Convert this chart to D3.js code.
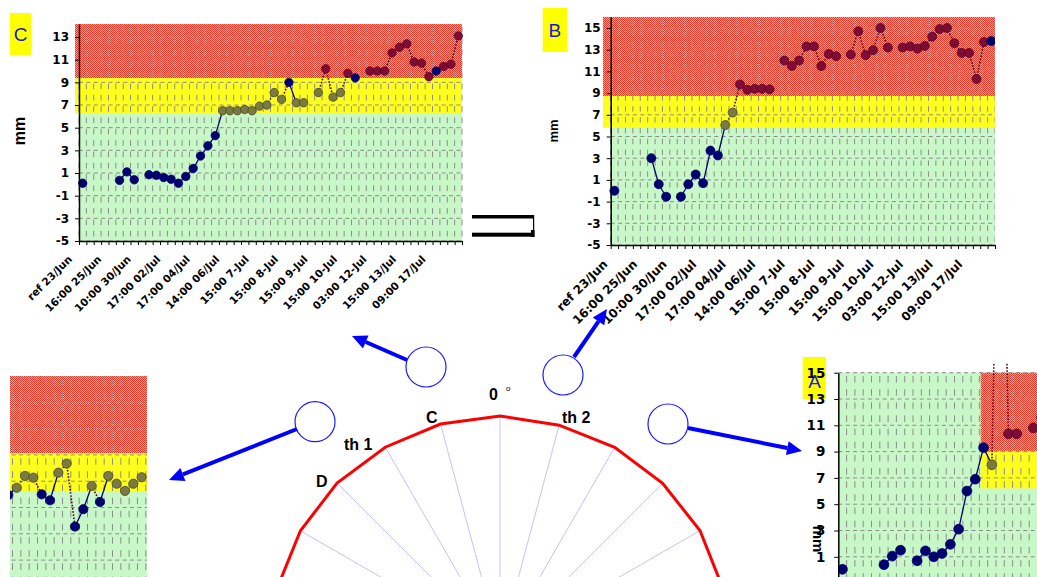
<!DOCTYPE html>
<html>
<head>
<meta charset="utf-8">
<script src="https://d3js.org/d3.v7.min.js"></script>
<style>
  body { margin: 0; background: #fff; }
  svg text { font-family: "Liberation Sans", Arial, sans-serif; font-weight: bold; }
  svg .tk text, svg text.xl { font-family: "DejaVu Sans", "Liberation Sans", sans-serif; }
</style>
</head>
<body>
<script>
// ---- data ----
const tickLabels = ['ref 23/Jun', '16:00 25/Jun', '10:00 30/Jun', '17:00 02/Jul', '17:00 04/Jul',
  '14:00 06/Jul', '15:00 7-Jul', '15:00 8-Jul', '15:00 9-Jul', '15:00 10-Jul',
  '03:00 12-Jul', '15:00 13/Jul', '09:00 17/Jul'];
const nCats = 52;
const labelEvery = 4;

const yTicksC = [-5, -3, -1, 1, 3, 5, 7, 9, 11, 13];
const yTicksB = [-5, -3, -1, 1, 3, 5, 7, 9, 11, 13, 15];
const yTicksA = [1, 3, 5, 7, 9, 11, 13, 15];

// zone limits [yellow from, red from] in mm
const zonesC = [6.3, 9.38];
const zonesB = [5.8, 8.73];
const zonesA = [6.2, 9.05];
const zonesD = [6.2, 9.12];

// C
const valuesC = [0.1, null, null, null, null, 0.35, 1.1, 0.4, null, 0.85, 0.8, 0.6, 0.45, 0.1, 0.7,
  1.4, 2.5, 3.4, 4.3, 6.5, 6.5, 6.5, 6.6, 6.5, 6.9, 7.0, 8.1, 7.5, 9.0, 7.2, 7.2, null, 8.1, 10.2,
  7.7, 8.1, 9.8, 9.4, null, 10.0, 10.0, 10.0, 11.6, 12.1, 12.4, 10.8, 10.7, 9.5, 10.0, 10.4, 10.6, 13.1];
const groupsC = 'n----nnn-nnnnnnnnnnooooooooonoo-oroornrrrrrrrrrrnrrrr';
// B
const valuesB = [0.0, null, null, null, null, 3.0, 0.6, -0.55, null, -0.55, 0.6, 1.5, 0.7, 3.7, 3.25,
  6.05, 7.2, 9.8, 9.3, 9.4, 9.4, 9.35, null, 12.0, 11.5, 12.0, 13.3, 13.3, 11.5, 12.6, 12.4, null,
  12.55, 14.7, 12.5, 12.95, 15.0, 13.2, null, 13.2, 13.3, 13.1, 13.35, 14.2, 14.9, 15.0, 13.6, 12.7,
  12.7, 10.3, 13.7, 13.8];
const groupsB = 'n----nnn-nnnnnnoorrrrr-rrrrrrrr-rrrrrr-rrrrrrrrrrrrn';
// A (only the left part is in view)
const valuesA = [0.05, null, null, null, null, 0.4, 1.05, 1.5, null, 0.7, 1.45, 1.0, 1.25, 1.95, 3.1,
  6.0, 6.9, 9.3, 8.0, 40, 10.35, 10.35, null, 10.8, 11.6];
const groupsA = 'n----nnn-nnnnnnnnnorrr-rr';
// D (cropped piece)
const valuesD = [5.95, 6.5, 7.4, 7.27, 6.0, 5.55, 7.65, 8.34, 3.55, 4.87, 6.64, 5.42, 7.4, 6.81, 6.26, 6.81, 7.3];
const groupsD = 'nooonnoonnonooooo';
const gridTicksD = [-5, -3, -1, 1, 3, 5, 7, 9, 11, 13, 15];

// polar profile
const polarAngles = [-90, -75, -60, -45, -30, -15, 0, 15, 30, 45, 60, 75, 90];
const polarRadii = [1, 1, 1.002, 1.002, 0.998, 0.999, 1, 0.994, 0.997, 1, 1.004, 1, 1];

// ---- drawing ----
const NAVY = '#00006e';
const fillOf = { n: NAVY, o: '#7a7a42', r: '#7e0c36' };
const strokeOf = { n: NAVY, o: '#4a4a22', r: '#560420' };

const svg = d3.select('body').append('svg').attr('width', 1037).attr('height', 577);
const defs = svg.append('defs');

function checker(id, a, b) {
  const p = defs.append('pattern').attr('id', id).attr('width', 2).attr('height', 2)
    .attr('patternUnits', 'userSpaceOnUse');
  p.append('rect').attr('width', 2).attr('height', 2).attr('fill', a);
  p.append('rect').attr('width', 1).attr('height', 1).attr('fill', b);
  p.append('rect').attr('x', 1).attr('y', 1).attr('width', 1).attr('height', 1).attr('fill', b);
}
checker('redDither', '#f6a090', '#e23828');
checker('yelDither', '#f2f27a', '#ffff1e');

function chart(o) {
  const g = svg.append('g');
  const x = d3.scaleBand().domain(d3.range(nCats)).range([o.left, o.left + nCats * o.step]);
  const y = d3.scaleLinear().domain(o.yDomain).range([o.bottom, o.top]);
  const cx = i => x(i) + x.bandwidth() / 2;

  defs.append('clipPath').attr('id', 'clip' + o.id).append('rect')
    .attr('x', o.clip[0]).attr('y', o.clip[1]).attr('width', o.clip[2]).attr('height', o.clip[3]);
  const body = g.append('g').attr('clip-path', `url(#clip${o.id})`);

  const right = o.right;
  body.append('rect').attr('x', o.left).attr('y', o.top).attr('width', right - o.left)
    .attr('height', o.bottom - o.top).attr('fill', '#c8f7c8');
  body.append('rect').attr('x', o.bandX).attr('y', o.top).attr('width', right - o.bandX)
    .attr('height', y(o.zones[1]) - o.top).attr('fill', 'url(#redDither)');
  body.append('rect').attr('x', o.bandX).attr('y', y(o.zones[1])).attr('width', right - o.bandX)
    .attr('height', y(o.zones[0]) - y(o.zones[1])).attr('fill', 'url(#yelDither)');

  // grid
  const unit = y(0) - y(1);
  body.selectAll(null).data(d3.range(nCats + 1)).enter().append('line')
    .attr('x1', d => o.left + d * o.step).attr('x2', d => o.left + d * o.step)
    .attr('y1', o.top).attr('y2', o.bottom)
    .attr('stroke', '#8c8c8c').attr('stroke-width', 1)
    .attr('stroke-dasharray', `${unit * 0.5},${unit * 0.5}`)
    .attr('stroke-dashoffset', -unit * 0.25);
  body.selectAll(null).data(o.grid || o.yTicks).enter().append('line')
    .attr('x1', o.left).attr('x2', right)
    .attr('y1', d => y(d)).attr('y2', d => y(d))
    .attr('stroke', '#8c8c8c').attr('stroke-width', 1)
    .attr('stroke-dasharray', '4,3.4');

  // series
  const pts = o.values.map((v, i) => ({ i, v, g: o.groups[i] })).filter(d => d.v !== null);
  const line = d3.line().x(d => cx(d.i)).y(d => y(d.v));
  for (let k = 1; k < pts.length; k++) {
    const a = pts[k - 1], b = pts[k];
    if (b.i - a.i !== 1) continue;
    const solid = a.g === 'n';
    body.append('path').attr('d', line([a, b])).attr('fill', 'none')
      .attr('stroke', solid ? NAVY : strokeOf[a.g === 'o' && b.g === 'o' ? 'o' : 'r'])
      .attr('stroke-width', solid ? 1.3 : 1.6)
      .attr('stroke-dasharray', solid ? null : '1.6,1.6');
  }
  body.selectAll(null).data(pts).enter().append('circle')
    .attr('cx', d => cx(d.i)).attr('cy', d => y(d.v)).attr('r', o.r)
    .attr('fill', d => fillOf[d.g]).attr('stroke', d => strokeOf[d.g]).attr('stroke-width', 0.8);

  if (o.axes) {
    const yAxis = d3.axisLeft(y).tickValues(o.yTicks).tickSize(4).tickSizeOuter(0).tickFormat(d => String(d));
    const ya = g.append('g').attr('class', 'tk').attr('transform', `translate(${o.left},0)`).call(yAxis);
    ya.select('.domain').attr('stroke', '#000').attr('stroke-width', 1.5);
    ya.selectAll('text').attr('font-size', o.font).attr('x', -o.labelGap).attr('fill', '#000');
    if (o.xLabels) {
      const xl = d3.scaleLinear().domain([0, nCats]).range([o.left, o.left + nCats * o.step]);
      const xAxis = d3.axisBottom(xl).tickValues(d3.range(nCats + 1)).tickSize(4).tickSizeOuter(0).tickFormat('');
      const xa = g.append('g').attr('transform', `translate(0,${o.bottom})`).call(xAxis);
      xa.select('.domain').attr('stroke', '#000').attr('stroke-width', 1.5);
      g.selectAll(null).data(tickLabels).enter().append('text').attr('class', 'xl')
        .attr('transform', (d, k) => `translate(${cx(k * labelEvery) + o.xlDx},${o.bottom + o.xlDy}) rotate(-45)`)
        .attr('text-anchor', 'end').attr('font-size', o.xlFont).text(d => d);
    }
  }
  return { x, y };
}

// chart C (top left)
chart({ id: 'C', values: valuesC, groups: groupsC, zones: zonesC, yTicks: yTicksC,
  left: 79, step: 383 / nCats, right: 462, top: 24, bottom: 241, yDomain: [-5, 14.15],
  bandX: 75, clip: [75, 24, 388, 217], r: 4.2, axes: true, font: 12, labelGap: 10,
  xLabels: true, xlFont: 10.5, xlDx: -10, xlDy: 19 });

// chart B (top right)
chart({ id: 'B', values: valuesB, groups: groupsB, zones: zonesB, yTicks: yTicksB,
  left: 610.7, step: 384.3 / nCats, right: 995, top: 16.7, bottom: 245, yDomain: [-5, 16.04],
  bandX: 602.7, clip: [602.7, 16.7, 392.3, 228.3], r: 4.5, axes: true, font: 12, labelGap: 10,
  xLabels: true, xlFont: 12, xlDx: -6, xlDy: 20 });

// chart A (bottom right, cropped)
chart({ id: 'A', values: valuesA, groups: groupsA, zones: zonesA, yTicks: yTicksA, grid: gridTicksD,
  left: 838.3, step: 8.3, right: 1040, top: 372.7, bottom: 635.7, yDomain: [-5, 15],
  bandX: 980.7, clip: [838.3, 363, 200, 220], r: 4.9, axes: true, font: 13.5, labelGap: 13,
  xLabels: false });

// chart D (bottom left, cropped)
chart({ id: 'D', values: valuesD, groups: groupsD, zones: zonesD, yTicks: gridTicksD,
  left: 4.2, step: 8.33, right: 147, top: 376, bottom: 639, yDomain: [-5, 15],
  bandX: 4.2, clip: [10, 376, 137, 210], r: 4.6, axes: false });

// axis titles
svg.append('text').attr('transform', 'translate(25,131) rotate(-90)').attr('text-anchor', 'middle')
  .attr('font-size', 16).text('mm');
svg.append('text').attr('transform', 'translate(558,131) rotate(-90)').attr('text-anchor', 'middle')
  .attr('font-size', 13).text('mm');
svg.append('text').attr('transform', 'translate(813,539) rotate(90)').attr('text-anchor', 'middle')
  .attr('font-size', 15).text('mm');

// chart letters
function tag(x, y, w, h, s) {
  svg.append('rect').attr('x', x).attr('y', y).attr('width', w).attr('height', h).attr('fill', '#ffff00');
  svg.append('text').attr('x', x + w / 2).attr('y', y + h / 2 + 6.5).attr('text-anchor', 'middle')
    .attr('font-size', 19).attr('fill', '#1818e0').style('font-weight', 'normal').text(s);
}
tag(10, 13, 21, 42, 'C');
tag(542.7, 8, 24.3, 44, 'B');
svg.append('rect').attr('x', 802.7).attr('y', 357).attr('width', 23.3).attr('height', 42)
  .attr('fill', '#ffff00').lower();
svg.append('text').attr('x', 814.5).attr('y', 388).attr('text-anchor', 'middle')
  .attr('font-size', 19).attr('fill', '#1818e0').style('font-weight', 'normal').text('A');

// plug symbol between charts
svg.append('rect').attr('x', 472).attr('y', 215).attr('width', 62).attr('height', 3.5).attr('fill', '#000');
svg.append('rect').attr('x', 472).attr('y', 232.7).attr('width', 60).attr('height', 4).attr('fill', '#000');
svg.append('line').attr('x1', 533.6).attr('x2', 533.6).attr('y1', 215).attr('y2', 236).attr('stroke', '#000').attr('stroke-width', 1.2);
svg.append('rect').attr('x', 531).attr('y', 230).attr('width', 3.6).attr('height', 7).attr('fill', '#000');

// polar profile
const rScale = d3.scaleLinear().domain([0, 1]).range([0, 230]);
const rad = d => d * Math.PI / 180;
const polar = svg.append('g').attr('transform', 'translate(500,646)');
polar.selectAll(null).data(polarAngles).enter().append('line')
  .attr('x1', 0).attr('y1', 0)
  .attr('x2', (d, i) => rScale(polarRadii[i]) * Math.sin(rad(d)))
  .attr('y2', (d, i) => -rScale(polarRadii[i]) * Math.cos(rad(d)))
  .attr('stroke', '#c4c4f2').attr('stroke-width', 1);
const radial = d3.lineRadial().angle((d, i) => rad(polarAngles[i])).radius(d => rScale(d));
polar.append('path').datum(polarRadii).attr('d', radial).attr('fill', 'none')
  .attr('stroke', '#ff0000').attr('stroke-width', 3);

svg.append('text').attr('x', 489).attr('y', 400).attr('font-size', 16).text('0');
svg.append('text').attr('x', 506).attr('y', 391).attr('font-size', 8).style('font-weight', 'normal').text('o');
svg.append('text').attr('x', 426).attr('y', 423).attr('font-size', 16).text('C');
svg.append('text').attr('x', 344).attr('y', 450).attr('font-size', 16).text('th 1');
svg.append('text').attr('x', 316).attr('y', 487).attr('font-size', 16).text('D');
svg.append('text').attr('x', 562).attr('y', 423).attr('font-size', 16).text('th 2');

// pointer circles and arrows
[[426, 367], [563, 375], [315, 421.7], [668, 424]].forEach(c => {
  svg.append('circle').attr('cx', c[0]).attr('cy', c[1]).attr('r', 20)
    .attr('fill', 'none').attr('stroke', '#1a1aff').attr('stroke-width', 1.2);
});
function arrow(x1, y1, x2, y2) {
  const a = Math.atan2(y2 - y1, x2 - x1), len = 15, hw = 7;
  const bx = x2 - len * Math.cos(a), by = y2 - len * Math.sin(a);
  svg.append('line').attr('x1', x1).attr('y1', y1).attr('x2', bx).attr('y2', by)
    .attr('stroke', '#0000ff').attr('stroke-width', 4);
  svg.append('path').attr('fill', '#0000ff')
    .attr('d', `M${x2},${y2}L${bx + hw * Math.sin(a)},${by - hw * Math.cos(a)}L${bx - hw * Math.sin(a)},${by + hw * Math.cos(a)}Z`);
}
arrow(407, 360, 352, 336);
arrow(574, 357, 607, 309);
arrow(297, 429, 169, 480);
arrow(688, 428, 802, 451);
</script>
</body>
</html>
